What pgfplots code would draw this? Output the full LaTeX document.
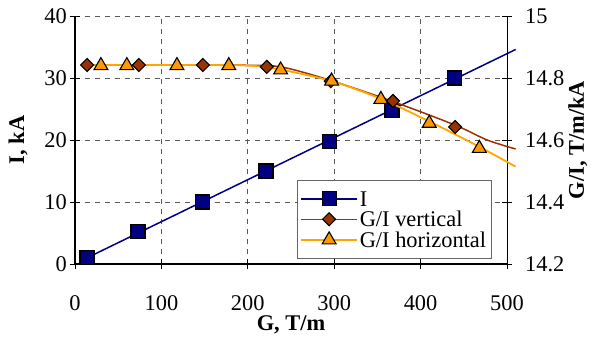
\documentclass[border=0pt]{standalone}
\usepackage{fontspec}
\setmainfont{Liberation Serif}
\usepackage{pgfplots}
\pgfplotsset{compat=1.18}
\definecolor{navy}{RGB}{0,0,128}
\definecolor{brn}{RGB}{153,51,0}
\definecolor{org}{RGB}{255,153,0}
\definecolor{orgl}{RGB}{255,165,0}
\definecolor{gridc}{RGB}{90,90,90}
\begin{document}
\begin{tikzpicture}[font=\fontsize{22.5}{26}\selectfont]
\useasboundingbox (-75bp,-77bp) rectangle (519bp,264bp);
\begin{axis}[
  at={(0,0)}, anchor=south west,
  scale only axis, width=432bp, height=248bp,
  xmin=0, xmax=500, ymin=0, ymax=40,
  xtick={0,100,...,500}, ytick={0,10,...,40},
  axis y line*=left, axis x line*=bottom,
  axis line style={line width=1.2bp, black, -},
  tick align=center, major tick length=10bp,
  tick style={black, line width=0.8bp},
  grid=major,
  major grid style={gridc, line width=0.7bp, dash pattern=on 5bp off 5bp},
  /pgf/number format/assume math mode=true,
  xticklabel style={anchor=base, yshift=-41bp, inner sep=0pt},
  yticklabel style={anchor=east, inner sep=0pt, xshift=-3bp},
  xlabel={\bfseries G, T/m},
  xlabel style={at={(axis description cs:0.5,-0.246)}, anchor=center},
  ylabel={\bfseries I, kA},
  ylabel style={at={(axis description cs:-0.132,0.5)}, anchor=center, rotate=0},
  clip=false,
]
\addplot[navy, line width=1.5bp] coordinates {(14,1.0) (510,34.6)};
\addplot[only marks, mark=square*, mark size=7bp, mark options={fill=navy, draw=black, line width=1.2bp}]
  coordinates {(14,1.0) (73,5.2) (148,10.0) (221,15.0) (295,19.8) (367,24.8) (439,30.0)};
\end{axis}
\begin{axis}[
  at={(0,0)}, anchor=south west,
  scale only axis, width=432bp, height=248bp,
  xmin=0, xmax=500, ymin=14.2, ymax=15,
  axis x line=none, axis y line*=right,
  axis line style={line width=1bp, black, -},
  ytick={14.2,14.4,...,15.01},
  tick align=center, major tick length=10bp,
  tick style={black, line width=0.8bp},
  /pgf/number format/assume math mode=true,
  yticklabel style={anchor=west, inner sep=0pt, xshift=13bp},
  ylabel={\bfseries G/I, T/m/kA},
  ylabel style={at={(axis description cs:1.164,0.5)}, anchor=center, rotate=0},
  clip=false,
  legend style={at={(axis description cs:0.514,0.339)}, anchor=north west,
    draw=black!60, line width=0.8bp, inner xsep=3bp, inner ysep=10bp, row sep=3.5bp,
    nodes={text height=16bp, text depth=1bp, inner ysep=0pt},
    font=\fontsize{22.5}{22}\selectfont},
  legend cell align=left,
  legend image code/.code={\draw[mark repeat=2, mark phase=2] plot coordinates {(0cm,0cm) (0.98cm,0cm) (1.96cm,0cm)};},
]
\addplot[brn, line width=1.5bp, smooth, tension=0.5, forget plot] coordinates {
  (14,14.842) (120,14.842) (200,14.841) (240,14.835) (296,14.792) (368,14.724) (440,14.648) (477,14.600) (510,14.571)};
\addplot[orgl, line width=1.8bp, smooth, tension=0.5, forget plot] coordinates {
  (14,14.842) (120,14.842) (200,14.840) (238,14.827) (297,14.790) (354,14.733) (410,14.660) (468,14.578) (510,14.514)};
\addplot[only marks, mark=square*, mark size=4.6bp, mark options={rotate=45, fill=brn, draw=black, line width=1.1bp}, forget plot]
  coordinates {(14,14.842) (74,14.842) (148,14.842) (222,14.836) (296,14.790) (368,14.726) (440,14.642)};
\addplot[only marks, mark=triangle*, mark size=8bp, mark options={fill=org, draw=black, line width=1.1bp}, forget plot]
  coordinates {(30,14.840) (60,14.840) (118,14.840) (178,14.840) (238,14.826) (297,14.790) (354,14.731) (410,14.654) (468,14.573)};
\addlegendimage{navy, line width=1.5bp, mark=square*, mark size=7bp, mark options={fill=navy, draw=black, line width=1.2bp}}
\addlegendentry{I}
\addlegendimage{brn, line width=1.5bp, mark=square*, mark size=4.6bp, mark options={rotate=45, fill=brn, draw=black, line width=1.1bp}}
\addlegendentry{G/I vertical}
\addlegendimage{orgl, line width=1.8bp, mark=triangle*, mark size=8bp, mark options={fill=org, draw=black, line width=1.1bp}}
\addlegendentry{G/I horizontal}
\end{axis}
\end{tikzpicture}
\end{document}
